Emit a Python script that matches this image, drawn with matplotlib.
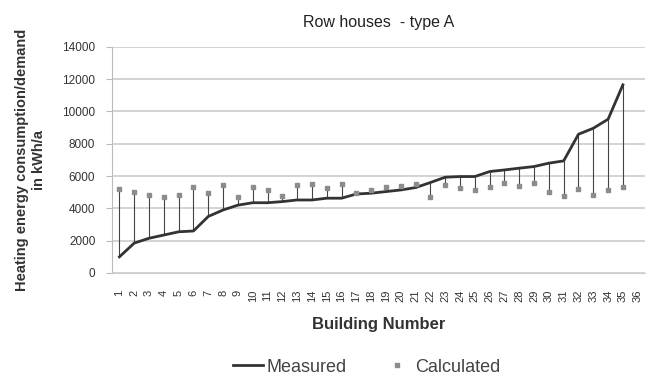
import numpy as np
import matplotlib
matplotlib.use("Agg")
import matplotlib.pyplot as plt

plt.rcParams["font.family"] = ["Liberation Sans", "DejaVu Sans"]

# Building numbers shown on the x axis (36 has no data)
buildings = list(range(1, 37))
data_buildings = list(range(1, 36))

# Measured heating energy consumption, kWh/a
measured = [1000, 1850, 2150, 2350, 2550, 2600, 3500, 3900, 4200, 4350,
            4350, 4420, 4520, 4520, 4630, 4630, 4890, 4940, 5040, 5140,
            5290, 5600, 5930, 5970, 5970, 6280, 6380, 6490, 6590, 6800,
            6940, 8590, 8960, 9520, 11650]

# Calculated heating energy demand, kWh/a
calculated = [5190, 5000, 4850, 4690, 4850, 5330, 4940, 5430, 4730, 5310,
              5120, 4790, 5430, 5490, 5290, 5490, 4940, 5120, 5350, 5390,
              5510, 4730, 5430, 5270, 5140, 5350, 5600, 5390, 5560, 5020,
              4770, 5230, 4810, 5140, 5350]

fig = plt.figure(figsize=(6.49, 3.81), dpi=100)
ax = fig.add_axes([0.1726, 0.2835, 0.8214, 0.5935])

# high-low lines between measured and calculated
ax.vlines(data_buildings, calculated, measured, colors="#444444", linewidth=0.8, zorder=2)
ax.plot(data_buildings, measured, color="#333333", linewidth=2, label="Measured", zorder=3)
ax.plot(data_buildings, calculated, linestyle="none", marker="s", markersize=3.5,
        color="#8c8c8c", label="Calculated", zorder=4)

ax.set_xlim(0.5, 36.5)
ax.set_ylim(0, 14000)
ax.set_yticks(range(0, 14001, 2000))
ax.set_xticks(buildings)
ax.set_xticklabels([str(b) for b in buildings], rotation=90, fontsize=8,
                   color="#333333")
ax.tick_params(axis="y", labelsize=8.5, length=4, color="#bbbbbb",
               labelcolor="#333333", pad=8)
ax.tick_params(axis="x", length=0, pad=12)
ax.grid(axis="y", color="#cccccc", linewidth=1.2)
ax.set_axisbelow(True)
for side in ["top", "right"]:
    ax.spines[side].set_visible(False)
ax.spines["left"].set_color("#bbbbbb")
ax.spines["bottom"].set_color("#cccccc")

ax.set_title("Row houses  - type A", fontsize=11.5, pad=14, color="#222222")
ax.set_xlabel("Building Number", fontsize=12, fontweight="bold", labelpad=11,
              color="#333333")
ax.set_ylabel("Heating energy consumption/demand\nin kWh/a", fontsize=10.5,
              fontweight="bold", labelpad=12, color="#333333")

ax.legend(loc="center", bbox_to_anchor=(0.478, -0.416), ncol=2, frameon=False,
          fontsize=13, handlelength=1.66, columnspacing=2.0, handletextpad=0.17,
          labelcolor="#444444", borderpad=0.2)

fig.savefig("out.png", dpi=100)
